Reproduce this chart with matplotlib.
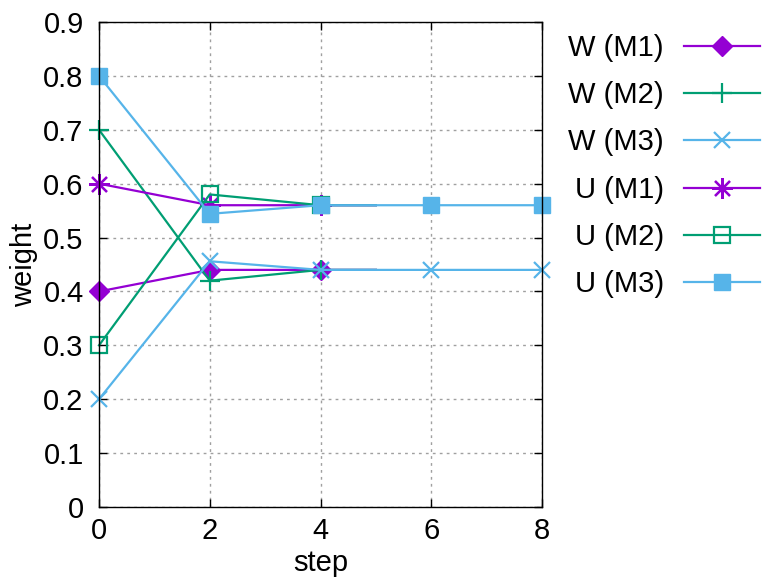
import matplotlib
matplotlib.use("Agg")
import matplotlib.pyplot as plt

plt.rcParams["font.family"] = ["Liberation Sans", "DejaVu Sans"]
plt.rcParams["font.size"] = 21

# steps: M1/M2 series stop at step 5, M3 runs to step 8
STEPS_SHORT = [0, 2, 4, 5]
STEPS_LONG = [0, 2, 4, 6, 8]

W_M1 = [0.40, 0.44, 0.44, 0.44]
W_M2 = [0.70, 0.42, 0.44, 0.44]
W_M3 = [0.20, 0.456, 0.44, 0.44, 0.44]
U_M1 = [0.60, 0.56, 0.56, 0.56]
U_M2 = [0.30, 0.58, 0.56, 0.56]
U_M3 = [0.80, 0.544, 0.56, 0.56, 0.56]

PURPLE = "#9400d3"
GREEN = "#009e73"
BLUE = "#56b4e9"

series = [
    ("W (M1)", STEPS_SHORT, W_M1, PURPLE, dict(marker="D", markersize=10)),
    ("W (M2)", STEPS_SHORT, W_M2, GREEN, dict(marker="+", markersize=15, markeredgewidth=1.6)),
    ("W (M3)", STEPS_LONG, W_M3, BLUE, dict(marker="x", markersize=12, markeredgewidth=1.6)),
    ("U (M1)", STEPS_SHORT, U_M1, PURPLE, dict(marker=(8, 2, 0), markersize=15, markeredgewidth=1.6)),
    ("U (M2)", STEPS_SHORT, U_M2, GREEN, dict(marker="s", markersize=11, markerfacecolor="none", markeredgewidth=1.6)),
    ("U (M3)", STEPS_LONG, U_M3, BLUE, dict(marker="s", markersize=12)),
]

fig = plt.figure(figsize=(7.64, 5.82), dpi=100)
ax = fig.add_axes([99 / 764, 1 - 507 / 582, (542 - 99) / 764, (507 - 22) / 582])

for label, xs, ys, color, style in series:
    n_marks = sum(1 for x in xs if x % 2 == 0)
    ax.plot(xs, ys, color=color, linewidth=1.6, label=label, clip_on=False,
            markevery=list(range(n_marks)), **style)

ax.set_xlim(0, 8)
ax.set_ylim(0, 0.9)
ax.set_xticks([0, 2, 4, 6, 8])
ax.set_yticks([i / 10 for i in range(10)])
ax.set_yticklabels(["0"] + [f"{i / 10:.1f}" for i in range(1, 10)])
ax.tick_params(direction="in", top=True, right=True, length=6, width=1)
ax.tick_params(axis="y", pad=11)
ax.tick_params(axis="x", pad=7)
ax.grid(True, linestyle=(0, (2, 3)), color="#a0a0a0", linewidth=1)
for sp in ax.spines.values():
    sp.set_linewidth(1)
ax.set_xlabel("step", labelpad=3)
ax.set_ylabel("weight", labelpad=4)

ax.legend(loc="upper right", bbox_to_anchor=(760 / 764, 1 - 34 / 582), bbox_transform=fig.transFigure,
          frameon=False, markerfirst=False, alignment="right", handlelength=2.6,
          handletextpad=0.7, labelspacing=0.66, borderaxespad=0.0, borderpad=0.0)

fig.savefig("out.png", dpi=100)
